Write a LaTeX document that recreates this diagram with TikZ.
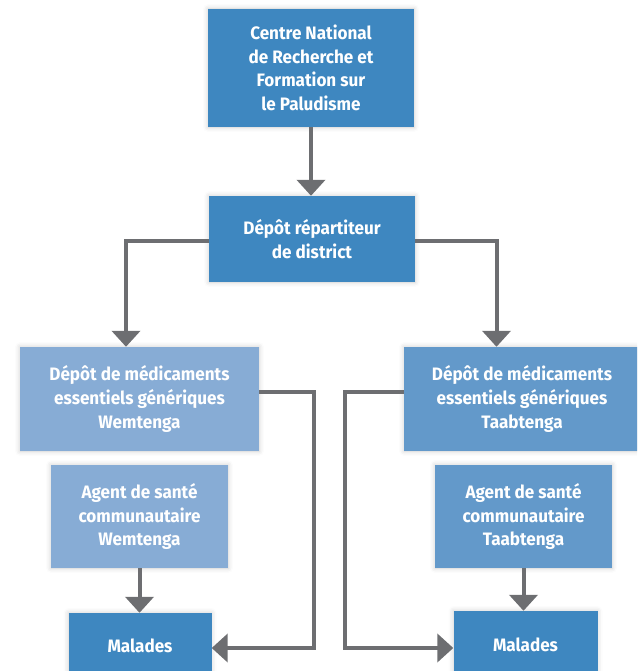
\documentclass[tikz,border=0pt]{standalone}
\usepackage{fontspec}
\newfontfamily\boxfont{Fira Sans}[FakeStretch=0.95]
\usetikzlibrary{arrows.meta,calc,shadows.blur}
\definecolor{bdark}{HTML}{3E87C0}
\definecolor{bmid}{HTML}{6399CA}
\definecolor{blight}{HTML}{87ACD5}
\definecolor{conn}{HTML}{6D6E71}
\tikzset{
  box/.style={rectangle, inner sep=0pt, align=center, text=white,
    font=\boxfont\bfseries\fontsize{18}{23.7}\selectfont,
    blur shadow={shadow xshift=0pt, shadow yshift=0pt, shadow blur radius=5pt, shadow opacity=20}},
  arr/.style={draw=conn, line width=4pt, -{Triangle[width=28pt,length=16pt]}},
}
\begin{document}
\begin{tikzpicture}[x=1pt,y=-1pt]
\useasboundingbox (0,0) rectangle (637,671);
\clip (0,0) rectangle (637,671);
\node[box, fill=bdark, minimum width=206pt, minimum height=118pt] (top) at (311,68)
  {Centre National\\de Recherche et\\Formation sur\\le Paludisme};
\node[box, fill=bdark, minimum width=206pt, minimum height=86pt] (dist) at (312,239)
  {Dépôt répartiteur\\de district};
\node[box, fill=blight, minimum width=239pt, minimum height=104pt] (ldep) at (139.5,399)
  {Dépôt de médicaments\\essentiels génériques\\Wemtenga};
\node[box, fill=blight, minimum width=177pt, minimum height=103pt] (lag) at (139.5,516.5)
  {Agent de santé\\communautaire\\Wemtenga};
\node[box, fill=bmid, minimum width=236pt, minimum height=104pt] (rdep) at (522,399)
  {Dépôt de médicaments\\essentiels génériques\\Taabtenga};
\node[box, fill=bmid, minimum width=177pt, minimum height=103pt] (rag) at (523.5,516.5)
  {Agent de santé\\communautaire\\Taabtenga};
\node[box, fill=bdark, minimum width=143pt, minimum height=66pt] (lmal) at (140,646)
  {Malades};
\node[box, fill=bdark, minimum width=144pt, minimum height=68pt] (rmal) at (525.5,645)
  {Malades};
\coordinate (lc) at (314,392);
\coordinate (rc) at (345,392);
\draw[arr] (top.south) -- (top.south |- dist.north);
\draw[arr] ($(dist.west)+(0,2)$) -| ($(ldep.north)+(-13.5,0)$);
\draw[arr] ($(dist.east)+(0,2)$) -| ($(rdep.north)+(-25.5,0)$);
\draw[arr] (ldep.east |- lc) -- (lc) |- ($(lmal.east)+(0,2)$);
\draw[arr] (rdep.west |- rc) -- (rc) |- ($(rmal.west)+(0,3)$);
\draw[arr] (lag.south) -- (lag.south |- lmal.north);
\draw[arr] (rag.south) -- (rag.south |- rmal.north);
\end{tikzpicture}
\end{document}
